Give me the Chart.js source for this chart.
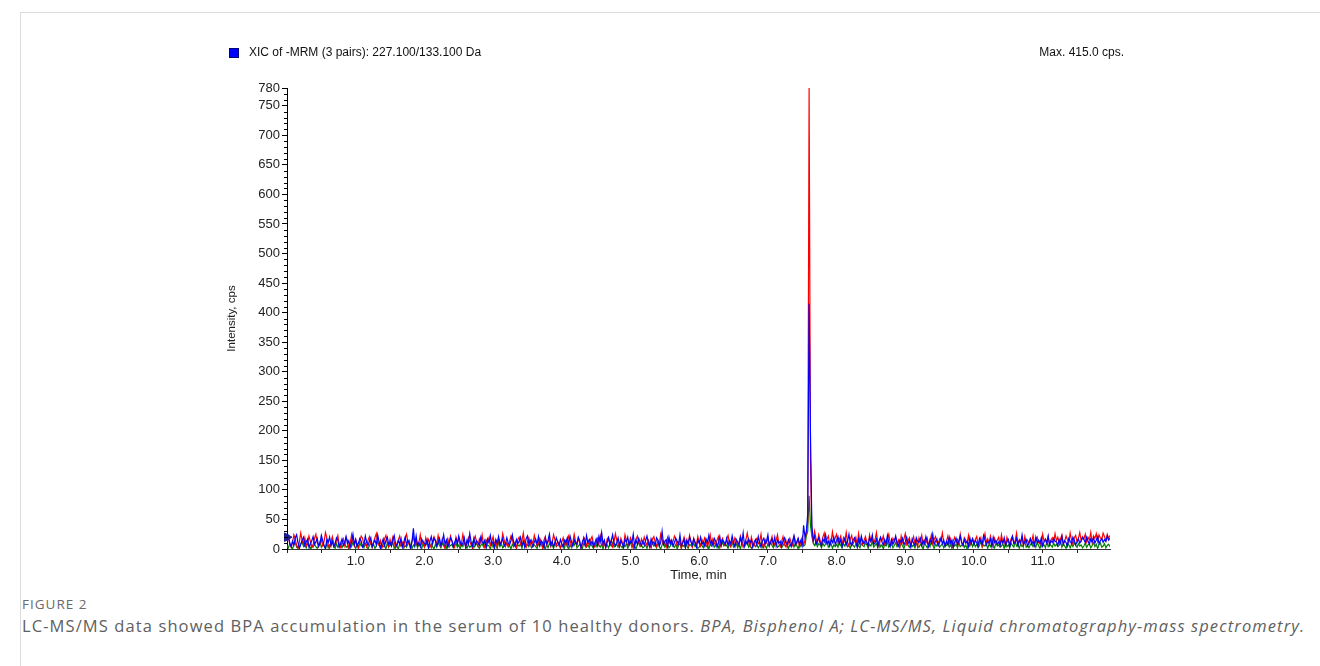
<!DOCTYPE html>
<html>
<head>
<meta charset="utf-8">
<title>XIC of -MRM 227.100/133.100 Da</title>
<script src="https://cdn.jsdelivr.net/npm/chart.js@4.4.1/dist/chart.umd.min.js"></script>
<style>
  html, body { margin: 0; padding: 0; background: #ffffff; }
  body { width: 1320px; height: 666px; position: relative; overflow: hidden; }
  #frame { position: absolute; left: 20px; top: 12px; right: 0; bottom: 0;
           border-top: 1px solid #dcdcdc; border-left: 1px solid #dcdcdc; }
  #plot { position: absolute; left: 0; top: 0; }
  #caption { position: absolute; left: 22px; top: 595px; font-family: "Open Sans", "Noto Sans", sans-serif; color: #666; }
  #caption .fig { font-size: 13.5px; letter-spacing: 1px; color: #6a6a6a; line-height: 18px; }
  #caption .txt { font-size: 16.5px; letter-spacing: 1.1px; margin-top: 2px; color: #606060; white-space: nowrap; line-height: 22px; }
</style>
</head>
<body>
<div id="frame"></div>
<canvas id="plot" width="1320" height="590"></canvas>
<div id="caption">
  <div class="fig">FIGURE 2</div>
  <div class="txt">LC-MS/MS data showed BPA accumulation in the serum of 10 healthy donors. <i>BPA, Bisphenol A; LC-MS/MS, Liquid chromatography-mass spectrometry.</i></div>
</div>
<script>
// Scan spacing of the three MRM transitions (minutes)
const SCAN_STEP = 0.02;

// Transition 1 (red)
const red = [
  14,20,9,3,11,24,17,6,0,12,27,15,8,19,5,10,22,13,2,7,
  18,25,11,4,9,16,6,13,28,19,7,1,12,21,10,5,15,23,8,3,
  11,17,6,20,14,2,9,24,12,5,16,8,0,13,22,18,7,10,4,15,
  21,9,3,12,19,26,10,6,14,1,8,17,23,11,4,16,7,20,13,2,
  9,15,22,6,11,3,18,25,12,7,0,14,20,9,16,5,11,24,8,13,
  4,19,10,16,7,2,13,21,15,8,23,11,5,17,9,0,12,18,6,22,
  14,8,3,20,12,17,6,10,25,14,4,9,19,13,7,1,16,22,11,5,
  17,11,24,8,2,15,10,19,6,13,21,7,14,3,18,12,9,26,16,4,
  10,6,13,22,17,5,11,0,16,20,8,14,27,10,3,12,19,7,15,9,
  23,13,5,9,18,11,2,15,21,7,12,17,4,10,24,16,6,13,8,1,
  12,19,8,14,6,22,16,3,10,25,13,7,18,11,0,9,20,15,5,12,
  7,16,21,10,4,13,18,8,23,14,6,11,2,17,20,9,15,4,12,26,
  15,9,3,18,12,7,24,14,5,10,19,13,1,8,16,22,11,6,17,10,
  20,12,6,15,9,2,17,21,11,4,14,8,25,16,7,12,3,19,10,14,
  8,13,22,17,5,10,15,0,12,20,9,16,6,23,13,4,18,11,7,21,
  11,5,16,9,19,14,3,12,24,8,17,10,6,15,21,2,13,18,9,6,
  17,23,10,4,13,8,19,15,6,11,22,14,3,9,16,27,12,5,20,10,
  6,14,18,9,12,25,7,2,16,11,19,8,13,21,5,10,15,24,9,4,
  13,21,8,16,3,11,18,10,6,22,14,9,17,4,12,20,7,15,28,45,
  780,150,25,12,30,18,9,24,15,6,20,27,11,17,22,8,14,29,12,19,
  25,10,16,22,7,19,13,28,11,5,17,23,9,14,20,6,26,12,18,8,
  15,21,11,6,24,13,18,9,16,28,10,4,19,14,22,8,12,17,25,10,
  7,18,13,20,9,15,4,22,11,17,26,8,14,19,6,12,21,10,16,3,
  19,12,23,8,15,10,18,5,13,24,9,16,21,11,7,17,14,27,10,6,
  13,22,9,17,4,14,20,11,16,8,25,12,6,19,15,10,23,7,13,18,
  10,16,21,7,12,19,5,14,26,11,17,9,22,13,4,18,10,15,20,8,
  24,11,15,6,20,13,9,17,22,10,14,27,8,16,12,19,5,21,11,15,
  9,18,12,23,7,16,20,11,14,6,25,13,17,10,21,8,15,19,12,26,
  14,20,10,17,24,9,13,22,16,11,27,15,8,19,23,12,18,28,14,21,
  17,25,12,20,15,28,11,22,18,26,13,24,19,16,27,21,14,25,18,23
];

// Transition 2 (green)
const green = [
  6,2,9,4,0,7,11,3,5,1,8,13,4,6,2,10,5,0,7,3,
  9,4,1,6,12,3,8,5,0,10,2,7,4,14,6,1,9,3,5,8,
  2,7,10,3,5,0,9,4,12,6,1,8,3,11,5,7,2,9,4,0,
  6,11,3,8,1,5,13,7,2,9,4,6,0,10,3,8,5,12,1,7,
  4,0,8,5,10,2,6,3,9,14,5,1,7,4,11,2,8,6,0,9,
  3,7,12,1,5,9,4,0,8,3,11,6,2,10,5,7,1,13,4,6,
  8,2,5,10,3,7,0,9,4,12,6,1,8,3,5,11,2,7,9,4,
  1,6,9,4,13,2,7,5,0,10,3,8,6,1,12,4,9,2,5,7,
  10,3,6,0,8,4,11,2,7,5,9,1,14,6,3,8,4,10,2,5,
  7,4,1,9,5,12,3,6,0,8,2,10,5,7,1,11,4,6,9,3,
  5,8,2,11,4,0,7,3,9,6,13,2,5,8,4,1,10,6,3,7,
  2,9,5,1,7,4,12,6,3,8,0,10,4,7,2,9,5,11,3,6,
  8,3,10,5,2,7,4,9,1,6,12,3,8,5,0,7,11,4,6,2,
  4,7,1,9,6,3,11,5,8,2,10,4,0,7,13,3,6,9,2,5,
  11,5,3,8,0,6,9,2,7,4,12,5,1,8,6,3,10,4,7,1,
  3,9,6,2,10,4,7,0,8,5,11,3,6,9,2,7,4,12,5,8,
  6,1,8,4,12,3,5,9,2,7,0,10,6,4,8,13,3,7,1,5,
  9,4,7,2,6,11,3,8,5,1,9,4,12,6,2,7,10,3,5,8,
  2,6,10,4,8,1,7,5,12,3,9,6,0,8,4,11,5,7,22,30,
  90,40,22,10,6,12,4,9,7,2,10,5,8,13,3,6,9,1,7,4,
  8,3,11,6,2,9,5,12,4,7,1,10,6,3,8,14,5,2,9,6,
  4,10,7,1,8,5,13,3,6,9,2,11,4,7,0,8,5,12,3,6,
  9,2,6,11,4,7,3,10,5,1,8,12,6,3,9,4,7,2,10,5,
  3,8,5,0,10,6,2,9,4,13,7,1,8,5,11,3,6,9,2,7,
  6,12,3,7,1,9,5,8,2,11,4,6,10,3,7,0,9,5,12,4,
  10,4,8,2,6,13,3,7,5,9,1,8,4,11,6,2,10,5,7,3,
  5,9,1,11,4,7,2,10,6,3,12,5,8,1,9,4,7,13,3,6,
  2,7,10,4,8,3,11,6,1,9,5,7,2,12,4,8,6,3,10,5,
  8,4,6,12,3,9,5,1,10,7,2,8,4,11,6,3,9,5,7,2,
  5,10,3,7,9,2,6,11,4,8,1,7,10,3,5,9,2,6,8,4
];

// Transition 3 (blue) : 227.100/133.100 Da
const blue = [
  16,22,10,4,13,7,19,24,11,2,8,15,20,6,12,17,3,9,14,21,
  8,12,18,5,10,23,14,6,1,16,11,20,7,13,4,9,19,15,3,10,
  17,6,11,21,9,14,2,12,25,8,16,5,10,18,13,3,7,22,11,6,
  13,19,4,10,15,7,24,12,1,9,17,6,14,20,8,11,5,16,23,9,
  5,14,9,18,3,12,20,7,15,10,2,13,35,8,22,6,11,4,17,12,
  10,7,16,2,13,21,9,18,14,5,11,18,6,12,24,8,15,3,10,19,
  14,4,11,17,8,22,13,6,10,19,3,15,9,26,12,5,18,7,14,11,
  6,20,12,9,15,3,17,11,23,8,13,1,16,10,21,7,12,18,5,9,
  19,10,7,14,24,11,5,16,9,13,20,6,12,3,17,22,8,15,10,4,
  12,17,8,21,6,14,11,2,18,9,15,25,7,13,4,10,19,12,6,16,
  9,3,15,11,19,7,22,13,5,16,10,8,20,14,2,12,18,6,23,11,
  16,8,13,4,10,17,6,21,12,28,9,15,3,11,19,7,14,24,10,5,
  11,19,6,14,9,2,16,12,20,7,13,10,25,4,15,8,18,11,6,13,
  7,14,22,10,3,17,9,12,6,19,15,5,11,30,8,13,16,4,20,9,
  15,5,11,18,13,8,24,6,10,16,2,14,9,20,12,7,17,11,3,15,
  10,20,8,12,5,17,11,23,9,14,6,18,13,3,10,21,7,15,12,8,
  18,6,14,9,22,11,4,16,12,7,19,10,27,5,13,8,17,11,15,3,
  12,16,7,21,10,3,14,18,8,13,24,6,11,17,9,20,5,15,10,13,
  5,13,19,11,8,16,10,4,14,22,7,12,18,9,15,6,40,20,30,60,
  415,195,40,15,22,8,14,19,10,6,17,12,24,9,13,5,16,11,20,8,
  14,21,9,16,4,12,18,7,13,25,10,6,15,19,11,3,17,8,22,12,
  9,15,11,6,19,13,24,8,10,17,5,14,20,12,7,16,9,23,11,4,
  16,8,13,22,10,5,15,11,18,7,12,20,9,14,3,17,10,6,19,13,
  11,18,6,14,9,21,12,4,16,10,25,8,13,17,6,11,19,9,15,5,
  13,7,20,10,15,3,12,18,8,14,22,11,6,16,10,13,4,19,9,17,
  8,14,11,5,18,12,9,23,15,7,13,10,17,4,20,11,14,8,12,6,
  15,10,19,7,12,16,4,13,21,9,11,18,6,14,10,24,8,12,16,5,
  10,17,8,13,6,20,11,15,9,19,5,12,16,10,22,7,14,11,18,13,
  12,6,16,10,21,8,14,11,5,18,13,9,20,15,7,12,17,10,14,19,
  16,11,20,13,8,17,12,19,10,15,21,9,14,18,11,16,13,22,15,18
];

// Axis ranges and labelled intensity ticks
const TIME_RANGE = [0, 11.98];
const INTENSITY_TICKS = [0, 50, 100, 150, 200, 250, 300, 350, 400, 450, 500, 550, 600, 650, 700, 750, 780];
const LEGEND_TEXT = 'XIC of -MRM (3 pairs): 227.100/133.100 Da';

const FONT = 'Arial, "Liberation Sans", sans-serif';

function toPoints(values) {
  return values.map((v, i) => ({ x: +(i * SCAN_STEP).toFixed(2), y: v }));
}

// Header row: swatch + XIC description on the left, max intensity on the right
const headerPlugin = {
  id: 'xicHeader',
  afterDraw(chart) {
    const { ctx, chartArea } = chart;
    const y = chartArea.top - 35;
    ctx.save();
    ctx.fillStyle = '#0000ff';
    ctx.fillRect(chartArea.left - 58, y - 5, 10, 10);
    ctx.strokeStyle = '#00007a';
    ctx.lineWidth = 1;
    ctx.strokeRect(chartArea.left - 57.5, y - 4.5, 9, 9);
    ctx.fillStyle = '#111';
    ctx.font = '12px ' + FONT;
    ctx.textBaseline = 'middle';
    ctx.textAlign = 'left';
    ctx.fillText(LEGEND_TEXT, chartArea.left - 38, y);
    ctx.textAlign = 'right';
    ctx.fillText('Max. ' + Math.max(...blue).toFixed(1) + ' cps.', chartArea.right + 14, y);
    ctx.restore();
  }
};

// Minor tick marks every 10 cps on the intensity axis
const minorTicksPlugin = {
  id: 'minorTicks',
  afterDraw(chart) {
    const ys = chart.scales.y;
    const { ctx } = chart;
    ctx.save();
    ctx.strokeStyle = '#000';
    ctx.lineWidth = 1;
    ctx.beginPath();
    for (let v = 10; v < ys.max; v += 10) {
      if (v % 50 === 0) continue;
      const py = Math.round(ys.getPixelForValue(v)) + 0.5;
      ctx.moveTo(ys.right - 3, py);
      ctx.lineTo(ys.right + 1, py);
    }
    ctx.stroke();
    ctx.restore();
  }
};

const lineStyle = { borderWidth: 1.2, pointRadius: 0, tension: 0, fill: false };

new Chart(document.getElementById('plot'), {
  type: 'line',
  data: {
    datasets: [
      { label: 'blue', data: toPoints(blue), borderColor: '#0000ff', order: 1, ...lineStyle },
      { label: 'red', data: toPoints(red), borderColor: '#ff0000', order: 2, ...lineStyle },
      { label: 'green', data: toPoints(green), borderColor: '#008000', order: 3, ...lineStyle },
      { label: 'marker', data: [{ x: 0, y: 20 }], showLine: false, pointStyle: 'triangle', rotation: 90,
        pointRadius: 5, backgroundColor: '#1c1c8c', borderColor: '#1c1c8c', clip: false, order: 0 }
    ]
  },
  options: {
    responsive: false,
    animation: false,
    devicePixelRatio: 1,
    layout: { padding: { left: 217, top: 88, right: 210, bottom: 7 } },
    plugins: { legend: { display: false }, tooltip: { enabled: false } },
    scales: {
      x: {
        type: 'linear',
        min: TIME_RANGE[0],
        max: TIME_RANGE[1],
        afterFit: s => { s.height = 34; },
        border: { display: true, color: '#333', width: 1 },
        grid: { drawOnChartArea: false, drawTicks: true, tickLength: 4, color: '#222' },
        ticks: {
          stepSize: 0.5, includeBounds: false, autoSkip: false, maxRotation: 0, padding: 1,
          color: '#222', font: { family: FONT, size: 13 },
          callback: v => (v > 0 && Number.isInteger(v)) ? v.toFixed(1) : ''
        },
        title: { display: true, text: 'Time, min', color: '#222', font: { family: FONT, size: 13 }, padding: { top: 0, bottom: 0 } }
      },
      y: {
        min: 0,
        max: 780,
        afterFit: s => { s.width = 70; },
        afterBuildTicks: s => { s.ticks = INTENSITY_TICKS.map(v => ({ value: v })); },
        border: { display: true, color: '#000', width: 1 },
        grid: { drawOnChartArea: false, drawTicks: true, tickLength: 5, color: '#000' },
        ticks: { autoSkip: false, padding: 2, color: '#222', font: { family: FONT, size: 13 } },
        title: { display: true, text: 'Intensity, cps', color: '#222', font: { family: FONT, size: 11.5 }, padding: { top: 8, bottom: 0 } }
      }
    }
  },
  plugins: [headerPlugin, minorTicksPlugin]
});
</script>
</body>
</html>
